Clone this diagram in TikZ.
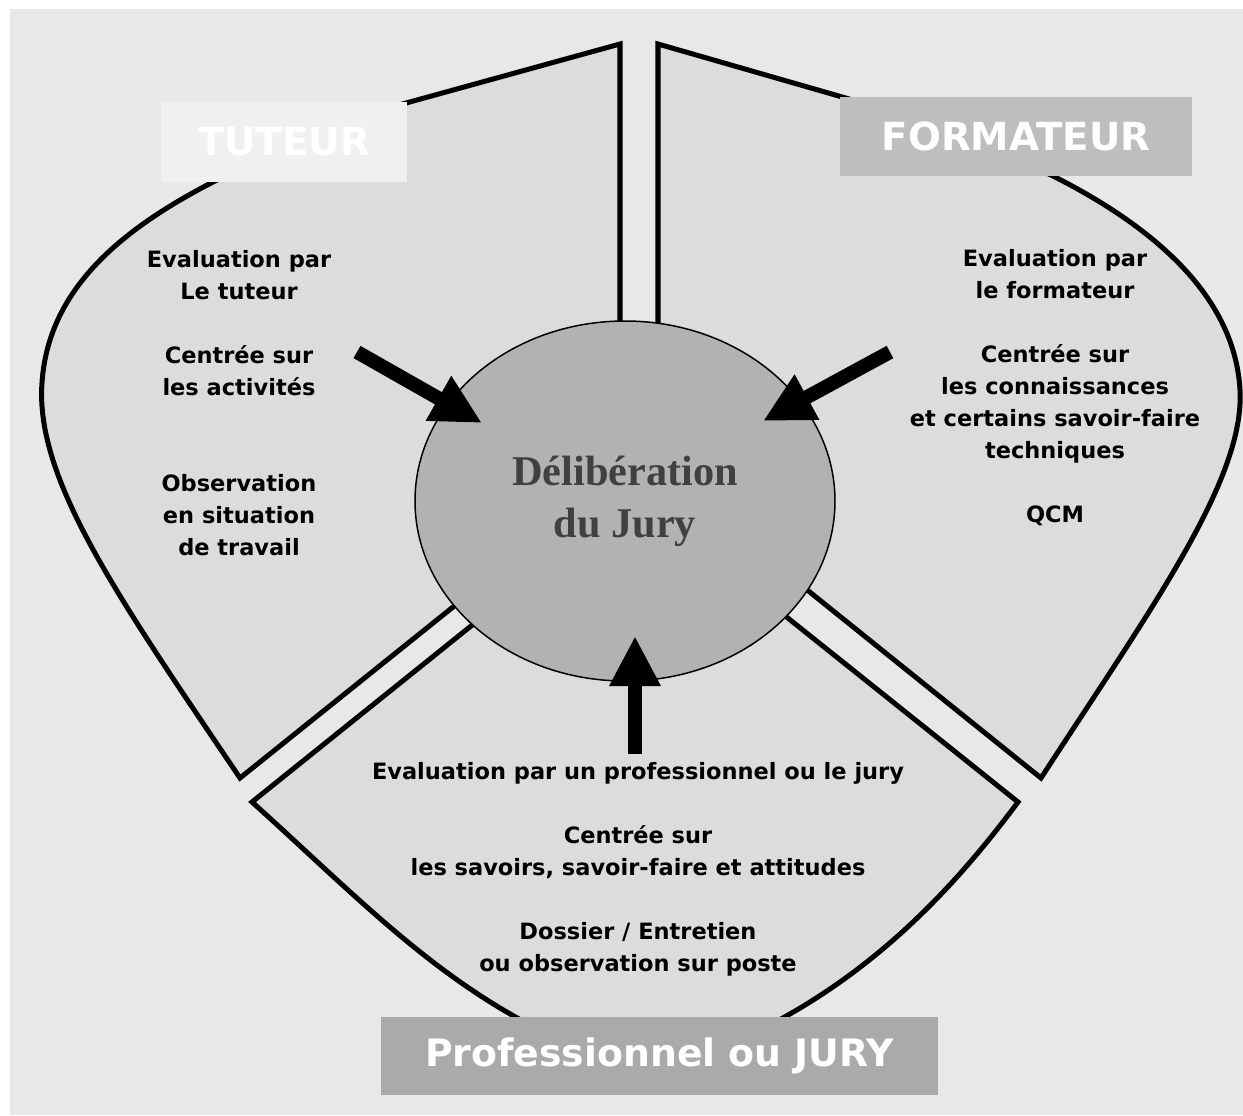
\documentclass[tikz,border=0pt]{standalone}
\usepackage{fontspec}
\newfontfamily\comicfont{DejaVu Sans}
\newfontfamily\timesfont{Liberation Serif}
\usetikzlibrary{shapes.geometric,arrows.meta}
\pgfdeclarelayer{edgelayer}
\pgfdeclarelayer{nodelayer}
\pgfsetlayers{edgelayer,nodelayer,main}
\definecolor{bggrey}{HTML}{E8E8E8}
\definecolor{piecegrey}{HTML}{DCDCDC}
\definecolor{jurygrey}{HTML}{B2B2B2}
\definecolor{jurytext}{HTML}{404040}
\definecolor{tutgrey}{HTML}{F0F0F0}
\definecolor{formgrey}{HTML}{BEBEBE}
\definecolor{progrey}{HTML}{AAAAAA}
\tikzset{font=\comicfont\bfseries}
\tikzstyle{none}=[inner sep=0pt]
\tikzstyle{piece}=[fill=piecegrey,draw=black,line width=2.85pt]
\tikzstyle{jury}=[ellipse,fill=jurygrey,draw=black,line width=0.85pt,minimum width=8.4cm,minimum height=7.2cm,inner sep=0pt,align=center,text=jurytext,font=\timesfont\bfseries\fontsize{24.1}{29.6}\selectfont]
\tikzstyle{textblock}=[align=center,font=\comicfont\bfseries\fontsize{12.8}{18.2}\selectfont]
\tikzstyle{namebox}=[inner sep=0pt,text=white,font=\comicfont\bfseries\fontsize{22}{26}\selectfont]
\tikzstyle{bigarrow}=[line width=8pt,-{Triangle[length=28.5pt,width=27.3pt]}]

\begin{document}
\begin{tikzpicture}
	\useasboundingbox (-12.5, 10.02) rectangle (12.36, -12.28);
	\begin{pgfonlayer}{nodelayer}
		\node [style=jury] (0) at (0, 0) {Délibération\\du Jury};
		\node [style=namebox, fill=tutgrey, minimum width=4.92cm, minimum height=1.6cm] (1) at (-6.82, 7.18) {TUTEUR};
		\node [style=namebox, fill=formgrey, minimum width=7.04cm, minimum height=1.58cm] (2) at (7.82, 7.29) {FORMATEUR};
		\node [style=namebox, fill=progrey, minimum width=11.14cm, minimum height=1.56cm, font=\comicfont\bfseries\fontsize{21.5}{26}\selectfont] (3) at (0.69, -11.1) {Professionnel ou JURY};
		\node [style=textblock] (4) at (-7.72, 1.95) {Evaluation par\\Le tuteur\\[18.2pt]Centrée sur\\les activités\\[36.4pt]Observation\\en situation\\de travail};
		\node [style=textblock] (5) at (8.6, 2.27) {Evaluation par\\le formateur\\[18.2pt]Centrée sur\\les connaissances\\et certains savoir-faire\\techniques\\[18.2pt]QCM};
		\node [style=textblock] (6) at (0.26, -7.36) {Evaluation par un professionnel ou le jury\\[18.2pt]Centrée sur\\les savoirs, savoir-faire et attitudes\\[18.2pt]Dossier / Entretien\\ou observation sur poste};
		\node [style=none] (7) at (-5.36, 2.98) {};
		\node [style=none] (8) at (-2.86, 1.56) {};
		\node [style=none] (9) at (5.3, 2.98) {};
		\node [style=none] (10) at (2.76, 1.6) {};
		\node [style=none] (11) at (0.2, -5.06) {};
		\node [style=none] (12) at (0.2, -2.7) {};
	\end{pgfonlayer}
	\begin{pgfonlayer}{edgelayer}
		\fill [bggrey] (-12.3, 9.84) rectangle (12.36, -12.28);
		% tuteur
		\draw [style=piece] (-0.1, 9.14) -- (-0.1, 0.56) -- (-7.7, -5.54)
			.. controls (-10.1, -1.98) and (-11.8, 0.42) .. (-11.66, 2.36)
			.. controls (-11.54, 4.22) and (-10.1, 5.42) .. (-8.24, 6.38)
			-- (-5.9, 7.54) -- cycle;
		% formateur
		\draw [style=piece] (0.66, 9.14) -- (0.66, 0.62) -- (8.32, -5.54)
			.. controls (10.5, -2.18) and (12.4, 0.42) .. (12.3, 2.22)
			.. controls (12.2, 4.02) and (10.7, 5.42) .. (8.56, 6.5)
			-- (6.5, 7.46) -- cycle;
		% professionnel
		\draw [style=piece] (0.18, 0.12) -- (-7.46, -6.02)
			.. controls (-5.5, -7.78) and (-3.9, -9.48) .. (-1.7, -10.58)
			-- (2.7, -10.58)
			.. controls (5.1, -9.38) and (6.7, -7.58) .. (7.86, -6.02)
			-- cycle;
	\end{pgfonlayer}
	\draw [style=bigarrow] (7.center) to (8.center);
	\draw [style=bigarrow] (9.center) to (10.center);
	\draw [style=bigarrow] (11.center) to (12.center);
\end{tikzpicture}
\end{document}
